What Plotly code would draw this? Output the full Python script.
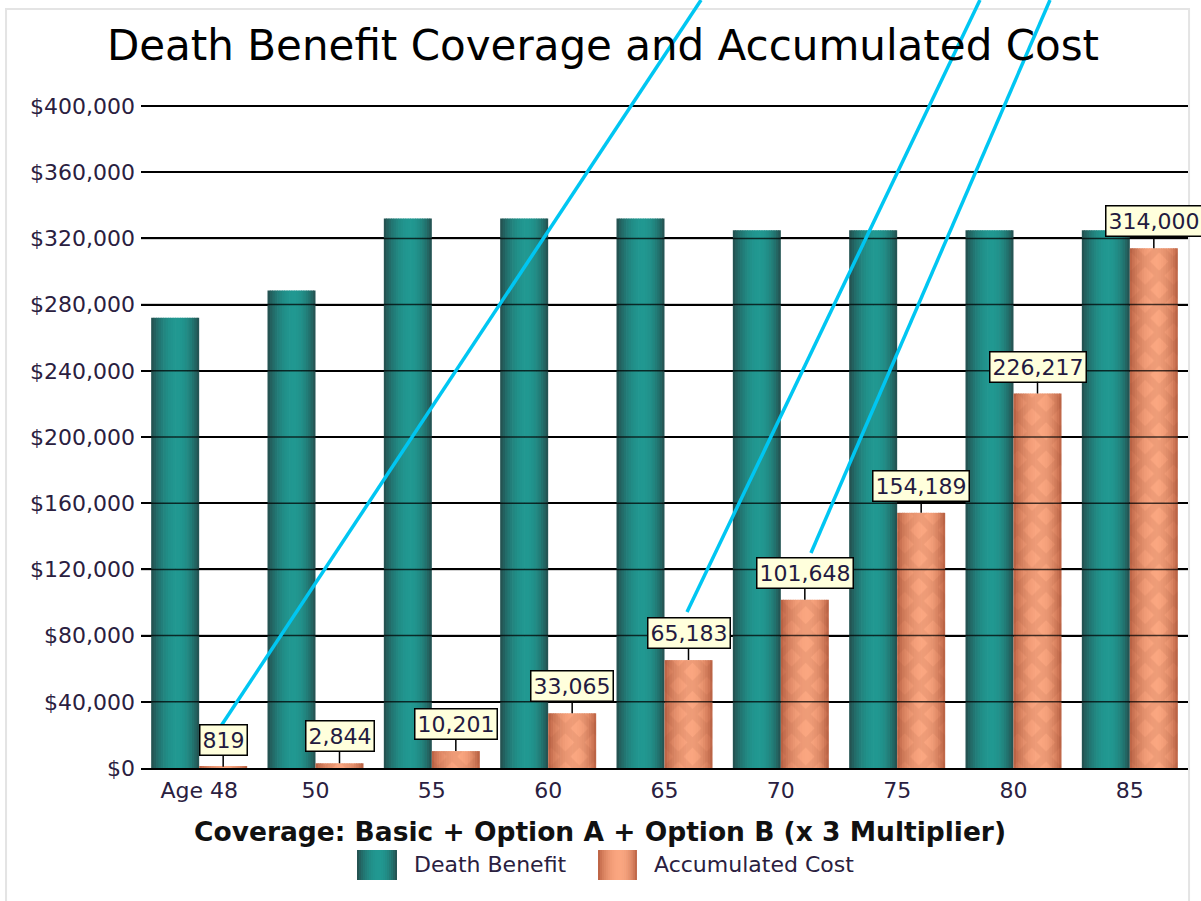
import math
import plotly.graph_objects as go

# ---------------- data ----------------
AGES = ["Age 48", "50", "55", "60", "65", "70", "75", "80", "85"]
DEATH_BENEFIT = [272000, 288500, 332000, 332000, 332000, 325000, 325000, 325000, 325000]
ACCUMULATED_COST = [819, 2844, 10201, 33065, 65183, 101648, 154189, 226217, 314000]
Y_TICKS = list(range(0, 400001, 40000))
Y_TICK_TEXT = [f"${v:,}" for v in Y_TICKS]
Y_MAX = 400000

TITLE = "Death Benefit Coverage and Accumulated Cost"
SUBTITLE = "Coverage: Basic + Option A + Option B (x 3 Multiplier)"
SERIES_NAMES = ["Death Benefit", "Accumulated Cost"]

# decorative cyan strokes drawn over the picture (paper coordinates)
OVERLAY_STROKES = [
    (0.0764, 0.0634, 0.5349, 1.1601),
    (0.5215, 0.2356, 0.8013, 1.1601),
    (0.6399, 0.3248, 0.8682, 1.1601),
]

# ---------------- styling helpers ----------------
FONT = "DejaVu Sans"
TEXT_COL = "#2a2040"
BAR_W = 0.4126
N_STRIPS = 20
TEAL_DARK, TEAL_BRIGHT = (36, 72, 72), (33, 152, 145)
ORNG_DARK, ORNG_BRIGHT = (182, 92, 62), (250, 166, 128)


def shade(dark, bright, t):
    if t < 0.55:
        u = t / 0.55 * 0.5
    else:
        u = 0.5 + (t - 0.55) / 0.45 * 0.5
    f = max(0.0, math.sin(math.pi * u)) ** 0.75
    c = [round(d + (b - d) * f) for d, b in zip(dark, bright)]
    return f"rgb({c[0]},{c[1]},{c[2]})"


idx = list(range(len(AGES)))
fig = go.Figure()

# cylinder-like shading built from thin strips of the same bars
for series, base, dark, bright in [
    (DEATH_BENEFIT, -BAR_W, TEAL_DARK, TEAL_BRIGHT),
    (ACCUMULATED_COST, 0.0, ORNG_DARK, ORNG_BRIGHT),
]:
    step = BAR_W / N_STRIPS
    for k in range(N_STRIPS):
        t = (k + 0.5) / N_STRIPS
        w = step * 1.3 if k < N_STRIPS - 1 else step
        fig.add_trace(go.Bar(
            x=idx, y=series, offset=base + k * step, width=w,
            marker=dict(color=shade(dark, bright, t), line=dict(width=0)),
            showlegend=False, hoverinfo="skip",
        ))

# diamond texture over the cost bars
fig.add_trace(go.Bar(
    x=idx, y=ACCUMULATED_COST, offset=0.0, width=BAR_W,
    marker=dict(color="rgba(0,0,0,0)", line=dict(width=0),
                pattern=dict(shape="x", fgcolor="#7a3418", fgopacity=0.09,
                             size=20, solidity=0.6, fillmode="overlay")),
    showlegend=False, hoverinfo="skip",
))

shapes = []
# gridlines drawn over the bars
for v in Y_TICKS[1:]:
    top = v == Y_MAX
    shapes.append(dict(type="line", xref="paper", yref="y domain", x0=0, x1=1,
                       y0=v / Y_MAX, y1=v / Y_MAX,
                       line=dict(color="black" if top else "rgba(0,0,0,0.72)",
                                 width=2 if top else 1.5), layer="above"))

# outer frame
shapes.append(dict(type="rect", xref="paper", yref="paper", x0=-0.1289, x1=1.001,
                   y0=-0.22, y1=1.1465, line=dict(color="#e4e4e4", width=2),
                   fillcolor="rgba(0,0,0,0)", layer="below"))

# custom legend swatches
LEG_Y0, LEG_Y1 = -0.1692, -0.1239
for (sx0, sx1), dark, bright in [((0.2063, 0.2445), TEAL_DARK, TEAL_BRIGHT),
                                  ((0.4365, 0.4737), ORNG_DARK, ORNG_BRIGHT)]:
    step = (sx1 - sx0) / N_STRIPS
    for k in range(N_STRIPS):
        t = (k + 0.5) / N_STRIPS
        w = step * 1.3 if k < N_STRIPS - 1 else step
        shapes.append(dict(type="rect", xref="paper", yref="paper",
                           x0=sx0 + k * step, x1=sx0 + k * step + w,
                           y0=LEG_Y0, y1=LEG_Y1, line=dict(width=0),
                           fillcolor=shade(dark, bright, t)))

# cyan strokes
for x0, y0, x1, y1 in OVERLAY_STROKES:
    shapes.append(dict(type="line", xref="paper", yref="paper", x0=x0, y0=y0, x1=x1, y1=y1,
                       line=dict(color="#00c6f2", width=3.5), layer="above"))

annotations = []
for i, v in enumerate(ACCUMULATED_COST):
    annotations.append(dict(
        x=i + BAR_W / 2, y=v, xref="x", yref="y", text=f"{v:,}",
        showarrow=True, arrowhead=0, arrowwidth=1.5, arrowcolor="black",
        ax=0, ay=-27, standoff=0,
        bgcolor="#ffffdc", bordercolor="black", borderwidth=1.5, borderpad=2,
        font=dict(family=FONT, size=22, color="#231a3f"),
    ))

annotations.append(dict(x=(600 - 141) / 1047, y=-0.0952, xref="paper", yref="paper",
                        text=f"<b>{SUBTITLE}</b>", showarrow=False,
                        font=dict(family=FONT, size=26.5, color="#111111"),
                        xanchor="center", yanchor="middle"))
for x, name in [(0.2588, SERIES_NAMES[0]), (0.4881, SERIES_NAMES[1])]:
    annotations.append(dict(x=x, y=-0.1465, xref="paper", yref="paper", text=name,
                            showarrow=False, xanchor="left", yanchor="middle",
                            font=dict(family=FONT, size=22, color=TEXT_COL)))

fig.update_layout(
    width=1201, height=901,
    margin=dict(l=141, r=13, t=106, b=133),
    paper_bgcolor="white", plot_bgcolor="white",
    barmode="overlay",
    font=dict(family=FONT, size=22, color=TEXT_COL),
    title=dict(text=TITLE, x=603 / 1201, xanchor="center", y=1 - 45 / 901, yanchor="middle",
               font=dict(family=FONT, size=42, color="#000000")),
    showlegend=False,
    xaxis=dict(range=[-0.5, len(AGES) - 0.5], tickvals=idx, ticktext=AGES,
               showgrid=False, zeroline=False, showline=True, linecolor="black",
               linewidth=2, ticks="", ticklabelstandoff=2,
               tickfont=dict(family=FONT, size=22, color=TEXT_COL)),
    yaxis=dict(range=[0, Y_MAX], tickvals=Y_TICKS, ticktext=Y_TICK_TEXT,
               showgrid=True, gridcolor="black", gridwidth=1.5, zeroline=False,
               showline=False, ticks="", ticklabelstandoff=5,
               tickfont=dict(family=FONT, size=22, color=TEXT_COL)),
    shapes=shapes,
    annotations=annotations,
)

fig.write_html("out.html", config={"displayModeBar": False},
               post_script="document.body.style.margin='0px';")
